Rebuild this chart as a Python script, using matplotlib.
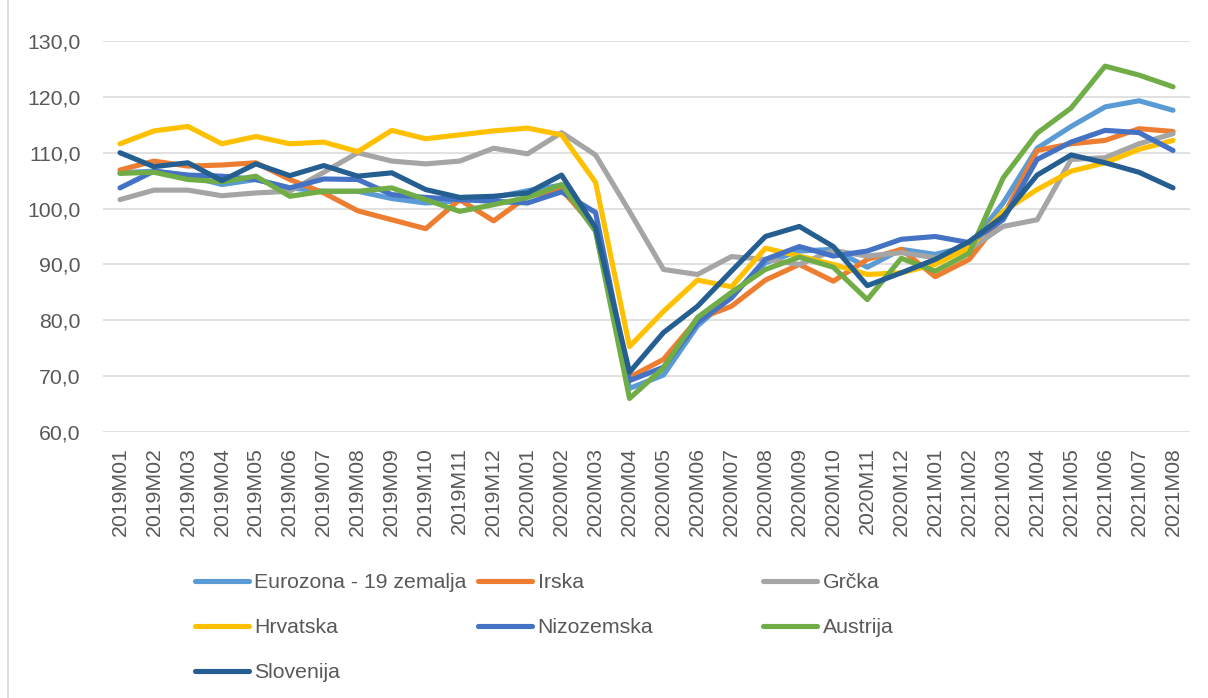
import matplotlib
matplotlib.use('Agg')
import matplotlib.pyplot as plt
from matplotlib.lines import Line2D

plt.rcParams['font.family'] = ['Liberation Sans', 'DejaVu Sans']

# Monthly labels and index values per country
months = ['2019M01', '2019M02', '2019M03', '2019M04', '2019M05', '2019M06', '2019M07', '2019M08',
          '2019M09', '2019M10', '2019M11', '2019M12', '2020M01', '2020M02', '2020M03', '2020M04',
          '2020M05', '2020M06', '2020M07', '2020M08', '2020M09', '2020M10', '2020M11', '2020M12',
          '2021M01', '2021M02', '2021M03', '2021M04', '2021M05', '2021M06', '2021M07', '2021M08']

eurozona = [106.4, 106.7, 105.9, 104.3, 105.2, 103.7, 103.1, 103.1, 101.8, 101.0, 101.4, 102.0,
            103.2, 104.2, 96.0, 67.8, 70.2, 79.0, 84.3, 90.3, 92.4, 92.7, 89.5, 92.7,
            91.8, 93.3, 101.0, 110.8, 114.7, 118.2, 119.3, 117.6]
irska = [106.9, 108.5, 107.6, 107.8, 108.2, 105.2, 102.8, 99.6, 98.0, 96.4, 101.6, 97.8,
         102.2, 103.4, 96.5, 69.8, 73.0, 80.2, 82.5, 87.2, 90.0, 87.0, 90.9, 92.7,
         87.8, 90.9, 98.6, 110.4, 111.6, 112.2, 114.3, 113.8]
grcka = [101.6, 103.3, 103.3, 102.3, 102.8, 103.1, 106.5, 110.0, 108.5, 108.0, 108.5, 110.8,
         109.8, 113.6, 109.6, 99.5, 89.1, 88.2, 91.4, 90.9, 90.0, 92.5, 91.5, 92.1,
         91.2, 92.7, 96.8, 98.0, 108.8, 109.1, 111.6, 113.4]
hrvatska = [111.6, 113.9, 114.7, 111.6, 112.9, 111.6, 111.9, 110.2, 114.0, 112.5, 113.2, 113.9,
            114.4, 113.2, 104.7, 75.3, 81.6, 87.2, 86.0, 92.9, 91.5, 90.0, 88.2, 88.5,
            90.0, 93.0, 99.5, 103.4, 106.7, 108.2, 110.6, 112.2]
nizozemska = [103.7, 106.7, 106.0, 105.8, 105.2, 103.7, 105.3, 105.2, 102.5, 102.0, 101.6, 101.3,
              101.0, 103.0, 99.3, 69.2, 71.6, 79.6, 84.0, 90.9, 93.2, 91.5, 92.4, 94.5,
              95.0, 93.9, 98.0, 108.8, 111.9, 114.0, 113.6, 110.4]
austrija = [106.3, 106.5, 105.2, 104.8, 105.8, 102.2, 103.1, 103.1, 103.7, 101.6, 99.5, 100.7,
            102.0, 104.3, 96.0, 66.0, 71.5, 80.5, 85.0, 89.1, 91.3, 89.5, 83.7, 91.1,
            88.8, 92.0, 105.5, 113.5, 118.0, 125.5, 123.9, 121.8]
slovenija = [110.0, 107.5, 108.2, 105.0, 108.0, 105.9, 107.7, 105.8, 106.4, 103.4, 102.0, 102.2,
             102.8, 106.0, 96.6, 70.7, 77.8, 82.5, 88.8, 95.0, 96.8, 93.2, 86.2, 88.5,
             90.9, 94.1, 98.6, 106.0, 109.6, 108.2, 106.5, 103.7]

names = ['Eurozona - 19 zemalja', 'Irska', 'Grčka', 'Hrvatska', 'Nizozemska', 'Austrija', 'Slovenija']
series = [eurozona, irska, grcka, hrvatska, nizozemska, austrija, slovenija]
colors = ['#5B9BD5', '#ED7D31', '#A5A5A5', '#FFC000', '#4472C4', '#70AD47', '#255E91']

text_color = '#595959'
fs = 15.3

fig = plt.figure(figsize=(12.08, 6.98), dpi=100)
ax = fig.add_axes([103 / 1208, 1 - 432 / 698, (1190 - 103) / 1208, (432 - 41) / 698])

x = list(range(len(months)))
for vals, name, c in zip(series, names, colors):
    ax.plot(x, vals, color=c, lw=3.7, label=name,
            solid_capstyle='round', solid_joinstyle='round')

ax.set_xlim(-0.5, len(months) - 0.5)
ax.set_ylim(60, 130)
ax.set_yticks(range(60, 131, 10))
ax.set_yticklabels([f'{v:.1f}'.replace('.', ',') for v in range(60, 131, 10)])
ax.set_xticks(x)
ax.set_xticklabels(months, rotation=90)
ax.grid(axis='y', color='#D9D9D9', lw=1.1)
ax.set_axisbelow(True)
for s in ax.spines.values():
    s.set_visible(False)
ax.tick_params(axis='both', length=0, labelsize=fs, labelcolor=text_color)
ax.tick_params(axis='y', pad=16)
ax.tick_params(axis='x', pad=11)

# legend in three columns, row-major like Excel
handles = ax.get_lines()
col_x = [195, 478, 763]
for ci, cx in enumerate(col_x):
    idx = list(range(ci, len(handles), 3))
    leg = fig.legend([handles[i] for i in idx], [names[i] for i in idx],
                     loc='upper left', bbox_to_anchor=(cx / 1208, 1 - 573 / 698),
                     frameon=False, fontsize=fs, handlelength=2.55, handletextpad=0.25,
                     labelspacing=1.23, borderpad=0, borderaxespad=0, labelcolor=text_color)

# left border of the chart area
fig.add_artist(Line2D([8 / 1208, 8 / 1208], [0, 1], color='#D9D9D9', lw=1.2))

fig.savefig('out.png', dpi=100)
